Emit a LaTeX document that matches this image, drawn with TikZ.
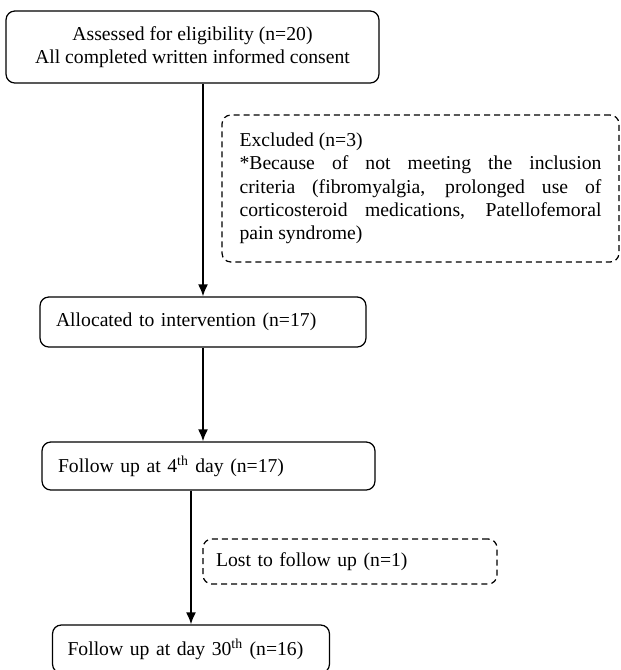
\documentclass[tikz,border=0pt]{standalone}
\usepackage{fontspec}
\setmainfont{Liberation Serif}
\usetikzlibrary{arrows.meta}
\tikzset{
  box/.style={draw, line width=0.7pt, rounded corners=5pt, font=\fontsize{11.2}{13.3}\selectfont},
  dbox/.style={box, dash pattern=on 3.4pt off 2.3pt},
  lbox/.style={box, align=left, inner xsep=0.32cm}
}

\begin{document}
\begin{tikzpicture}[x=0.02cm, y=-0.02cm, >={Latex[length=2.4mm,width=2mm]}]
        \useasboundingbox (0,0) rectangle (621,670);

        \node[box, minimum width=7.46cm, minimum height=1.44cm, align=center] (A) at (192.5,47)
            {Assessed for eligibility (n=20)\\All completed written informed consent};
        \node[dbox, minimum width=7.94cm, minimum height=2.94cm, text width=7.24cm, align=justify] (E) at (420.5,188.5)
            {Excluded (n=3)\\{*}Because of not meeting the inclusion\linebreak criteria (fibromyalgia, prolonged use of\linebreak corticosteroid medications, Patellofemoral\linebreak pain syndrome)};
        \node[lbox, minimum height=1cm, text width=5.88cm] (I) at (203,322) {Allocated to intervention (n=17)};
        \node[lbox, minimum height=0.96cm, text width=6.02cm] (F) at (208.5,466) {Follow up at 4\textsuperscript{th} day (n=17)};
        \node[dbox, align=left, inner xsep=0.26cm, minimum height=0.9cm, text width=5.36cm] (L) at (350,561.5) {Lost to follow up (n=1)};
        \node[lbox, inner xsep=0.3cm, minimum height=0.96cm, text width=4.94cm] (G) at (191,649) {Follow up at day 30\textsuperscript{th} (n=16)};

        \draw[->, line width=1pt] (A.south -| I.north) -- (I.north);
        \draw[->, line width=1pt] (I.south) -- (I.south |- F.north);
        \draw[->, line width=1pt] (F.south -| G.north) -- (G.north);
    \end{tikzpicture}
\end{document}
